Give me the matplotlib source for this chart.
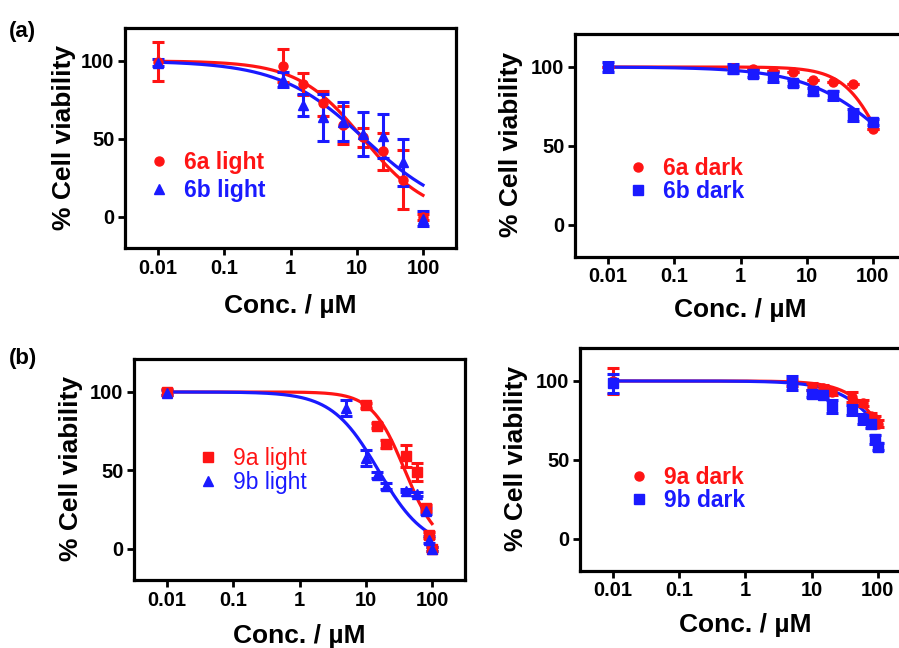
import numpy as np
import matplotlib
matplotlib.use("Agg")
import matplotlib.pyplot as plt
from matplotlib.lines import Line2D
from matplotlib.ticker import FixedLocator, NullLocator, FixedFormatter

plt.rcParams["font.family"] = ["Liberation Sans", "DejaVu Sans"]
plt.rcParams["font.weight"] = "bold"

RED = "#ff1414"
BLUE = "#1a1aff"

# ---- concentrations (µM) ----
conc_6 = [0.01, 0.78, 1.56, 3.125, 6.25, 12.5, 25, 50, 100]
conc_9 = [0.01, 5, 10, 15, 20, 40, 60, 80, 90, 100]
conc_9a_light = [0.01, 10, 15, 20, 40, 60, 80, 90, 100]

# ---- panel (a), irradiated ----
via_6a_light = [99.5, 97, 85, 73, 59, 51, 42, 24, 0]
err_6a_light = [12.5, 10.5, 7, 8, 12, 6, 12, 19, 2]
via_6b_light = [99, 88, 72, 64, 61, 53, 52, 35, -1]
err_6b_light = [2, 5, 7, 15, 12.5, 14, 14, 15, 5]

# ---- panel (a), dark ----
via_6a_dark = [100, 99.5, 98.5, 97.5, 96.8, 91.5, 90.5, 89.3, 60.5]
err_6a_dark = [0, 0, 0, 0, 0, 0, 0, 0, 0]
via_6b_dark = [100, 99, 95.8, 93.7, 89.8, 84.5, 82, 69.5, 65]
err_6b_dark = [3, 3, 2, 3, 2, 2, 3, 4, 2]

# ---- panel (b), irradiated ----
via_9a_light = [100, 91.5, 78.5, 67, 59, 49, 26, 9, 0]
err_9a_light = [2, 1.5, 1.5, 2.5, 7, 5.5, 2, 2, 1]
via_9b_light = [99.5, 90, 58, 47, 40, 37, 35, 24, 6, 0]
err_9b_light = [1.5, 5, 5, 2, 2, 1, 1, 2, 2, 1]

# ---- panel (b), dark ----
via_9a_dark = [100, 99, 96.5, 95.5, 93, 90, 86, 78, 76, 73]
err_9a_dark = [8, 2, 2, 2, 2, 3, 2, 2, 2, 2]
via_9b_dark = [98.5, 98.5, 92, 91, 84, 81.7, 76, 73, 63, 58.5]
err_9b_dark = [6, 4.4, 2, 2, 4, 3, 3, 3, 3, 2]

# ---- dose-response fit parameters: (IC50 in µM, Hill slope) ----
fit_6a_light = (12.6, 0.88)
fit_6b_light = (13.2, 0.67)
fit_6a_dark = (149.0, 1.45)
fit_6b_dark = (236.0, 0.67)
fit_9a_light = (39.0, 1.75)
fit_9b_light = (15.6, 1.23)
fit_9a_dark = (204.0, 1.39)
fit_9b_dark = (220.0, 1.14)

x_ticks = [0.01, 0.1, 1, 10, 100]
x_tick_labels = ["0.01", "0.1", "1", "10", "100"]
y_ticks = [0, 50, 100]
y_tick_labels = ["0", "50", "100"]


def dose_response(x, ic50, hill, top=100.0, bottom=0.0):
    return bottom + (top - bottom) / (1.0 + (x / ic50) ** hill)


W, H = 899, 648
fig = plt.figure(figsize=(W / 100, H / 100), dpi=100)


def make_axes(left, right, top, bottom):
    return fig.add_axes([left / W, 1 - bottom / H, (right - left) / W, (bottom - top) / H])


def style_axes(ax, xlab_y, ylab_x):
    ax.set_xscale("log")
    ax.set_xlim(10 ** -2.5, 10 ** 2.5)
    ax.set_ylim(-20, 121)
    ax.xaxis.set_major_locator(FixedLocator(x_ticks))
    ax.xaxis.set_major_formatter(FixedFormatter(x_tick_labels))
    ax.xaxis.set_minor_locator(NullLocator())
    ax.yaxis.set_major_locator(FixedLocator(y_ticks))
    ax.yaxis.set_major_formatter(FixedFormatter(y_tick_labels))
    for s in ax.spines.values():
        s.set_linewidth(2.3)
    ax.tick_params(axis="both", which="major", direction="out", length=5, width=2,
                   labelsize=14.5, pad=2.5, top=False, right=False)
    for lab in ax.get_xticklabels() + ax.get_yticklabels():
        lab.set_fontweight("bold")
    ax.set_xlabel("Conc. / µM", fontsize=19, fontweight="bold")
    ax.set_ylabel("% Cell viability", fontsize=19, fontweight="bold")
    ax.xaxis.label.set_va("baseline")
    ax.xaxis.set_label_coords(0.5, xlab_y)
    ax.yaxis.label.set_va("baseline")
    ax.yaxis.set_label_coords(ylab_x, 0.505)


def draw_series(ax, x, y, err, fit, color, marker, ms=6.5):
    ax.errorbar(x, y, yerr=err, fmt=marker, color=color, ms=ms, mec=color, mfc=color,
                elinewidth=2.2, capsize=4.5, capthick=2.2, zorder=3)
    xs = np.logspace(-2, 2, 300)
    ax.plot(xs, dose_response(xs, *fit), color=color, lw=2.3, zorder=2)


def add_legend(ax, entries, anchor, spacing, weight="bold"):
    handles = [Line2D([], [], ls="none", marker=m, color=c, ms=6.5) for _, c, m in entries]
    leg = ax.legend(handles, [t for t, _, _ in entries], loc="center left",
                    bbox_to_anchor=anchor, frameon=False, fontsize=16.5,
                    handlelength=1.0, handletextpad=0.6, labelspacing=spacing,
                    borderpad=0, borderaxespad=0, numpoints=1)
    for txt, (_, c, _) in zip(leg.get_texts(), entries):
        txt.set_color(c)
        txt.set_fontweight(weight)


# (a) left: irradiated
ax1 = make_axes(124.9, 456.1, 28.2, 248.2)
draw_series(ax1, conc_6, via_6a_light, err_6a_light, fit_6a_light, RED, "o")
draw_series(ax1, conc_6, via_6b_light, err_6b_light, fit_6b_light, BLUE, "^")
style_axes(ax1, -0.2945, -0.163)
add_legend(ax1, [("6a light", RED, "o"), ("6b light", BLUE, "^")], (0.068, 0.326), 0.2)

# (a) right: dark
ax2 = make_axes(575.0, 906.0, 33.8, 256.6)
draw_series(ax2, conc_6, via_6a_dark, err_6a_dark, fit_6a_dark, RED, "o")
draw_series(ax2, conc_6, via_6b_dark, err_6b_dark, fit_6b_dark, BLUE, "s")
style_axes(ax2, -0.27, -0.171)
add_legend(ax2, [("6a dark", RED, "o"), ("6b dark", BLUE, "s")], (0.156, 0.344), 0.0)

# (b) left: irradiated
ax3 = make_axes(133.9, 465.1, 359.0, 580.4)
draw_series(ax3, conc_9a_light, via_9a_light, err_9a_light, fit_9a_light, RED, "s")
draw_series(ax3, conc_9, via_9b_light, err_9b_light, fit_9b_light, BLUE, "^")
style_axes(ax3, -0.282, -0.168)
add_legend(ax3, [("9a light", RED, "s"), ("9b light", BLUE, "^")], (0.189, 0.496), 0.03,
           weight="normal")

# (b) right: dark
ax4 = make_axes(579.9, 911.0, 347.8, 570.6)
draw_series(ax4, conc_9, via_9a_dark, err_9a_dark, fit_9a_dark, RED, "o")
draw_series(ax4, conc_9, via_9b_dark, err_9b_dark, fit_9b_dark, BLUE, "s")
style_axes(ax4, -0.274, -0.173)
add_legend(ax4, [("9a dark", RED, "o"), ("9b dark", BLUE, "s")], (0.144, 0.366), 0.0)

# panel letters
fig.text(9 / W, 1 - 37 / H, "(a)", fontsize=16, fontweight="bold", ha="left", va="baseline")
fig.text(9 / W, 1 - 364 / H, "(b)", fontsize=16, fontweight="bold", ha="left", va="baseline")

fig.savefig("out.png", dpi=100, facecolor="white")
